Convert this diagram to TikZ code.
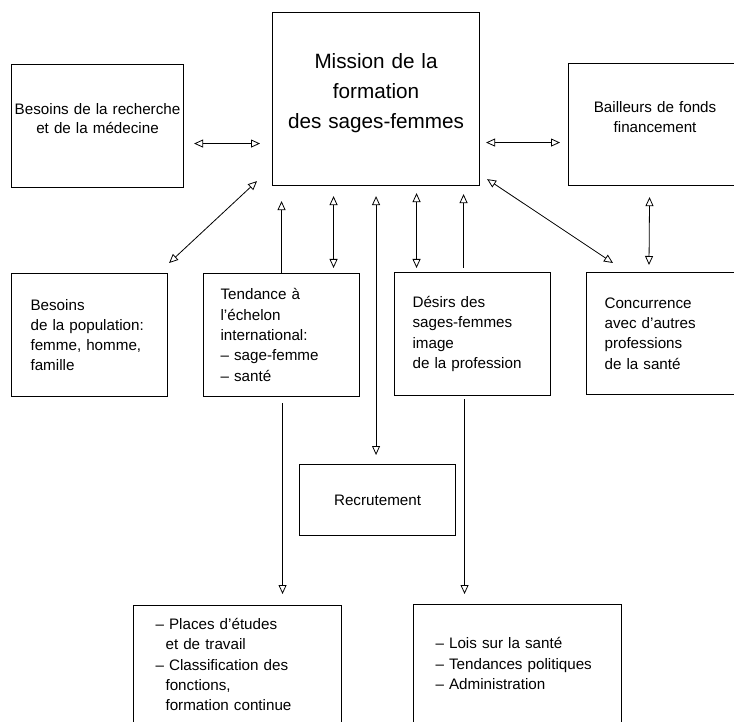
\documentclass[tikz,border=0pt]{standalone}
\usepackage{fontspec}
\setmainfont{Liberation Sans}
\usetikzlibrary{arrows.meta, calc, positioning}

\begin{document}
\begin{tikzpicture}[x=1pt, y=-1pt,
  box/.style={draw, line width=1.1pt, rectangle, inner sep=0pt, anchor=north west,
    font=\fontsize{15.2}{20.3}\selectfont},
  cbox/.style={box, align=center},
  lbox/.style={box, align=left, inner xsep=18pt},
  link/.style={line width=0.8pt},
  oneway/.style={link, -{Triangle[open, length=9pt, width=8pt]}},
  twoway/.style={link, {Triangle[open, length=9pt, width=8pt]}-{Triangle[open, length=9pt, width=8pt]}},
]
\path[use as bounding box] (0,0) rectangle (734,722);
\clip (0,0) rectangle (734,722);

% nodes
\node[cbox, text width=207pt, minimum height=173pt, text height=15pt, text depth=77pt,
  font=\fontsize{20.7}{30}\selectfont] (mission) at (272,12) {Mission de la\\formation\\des sages-femmes};
\node[cbox, text width=172pt, minimum height=123pt, text height=11pt, text depth=34pt,
  font=\fontsize{15.2}{18.5}\selectfont] (rech) at (11,64) {Besoins de la recherche\\et de la médecine};
\node[cbox, text width=173pt, minimum height=122pt, text height=11pt, text depth=35pt] (bail) at (568,63) {Bailleurs de fonds\\financement};

\node[lbox, inner xsep=19pt, text width=118pt, minimum height=123pt] (pop) at (11,273) {Besoins\\de la population:\\femme, homme,\\famille};
\node[lbox, inner xsep=17pt, text width=122pt, minimum height=123pt] (tend) at (203,273) {Tendance à\\l’échelon\\international:\\– sage-femme\\– santé};
\node[lbox, text width=120pt, minimum height=123pt] (des) at (394,272) {Désirs des\\sages-femmes\\image\\de la profession};
\node[lbox, text width=130pt, minimum height=122pt] (conc) at (586,272) {Concurrence\\avec d’autres\\professions\\de la santé};

\node[cbox, minimum width=156pt, minimum height=71pt] (recr) at (299,464) {Recrutement};

\node[lbox, inner xsep=22pt, text width=164pt, minimum height=118pt] (places) at (133,605) {– Places d’études\\\hspace*{10pt}et de travail\\– Classification des\\\hspace*{10pt}fonctions,\\\hspace*{10pt}formation continue};
\node[lbox, inner xsep=22pt, text width=164pt, minimum height=118pt] (lois) at (413,604) {– Lois sur la santé\\– Tendances politiques\\– Administration};

% arrows
\draw [twoway] ($(rech.east)+(10,17.5)$) -- ($(mission.west)+(-12,44.5)$);
\draw [twoway] ($(mission.east)+(6,43.5)$) -- ($(bail.west)+(-8,18)$);
\draw [twoway] ($(pop.north east)+(1,-10)$) -- ($(mission.south west)+(-15,-5)$);
\draw [twoway] ($(mission.south east)+(7,-7)$) -- ($(conc.north west)+(27,-9)$);
\draw [twoway] ($(bail.south)+(-5.5,11)$) -- ($(conc.north west)+(63,-7)$);

\draw [oneway, shorten >=15pt] (tend.north) -- (tend.north |- mission.south);
\draw [twoway] ($(mission.south)+(-42.5,10)$) -- ($(tend.north)+(52,-5)$);
\draw [twoway, shorten <=10pt, shorten >=9pt] (mission.south) -- (mission.south |- recr.north);
\draw [twoway] ($(mission.south)+(40.5,7)$) -- ($(des.north)+(-56,-4)$);
\draw [oneway] ($(des.north)+(-9,-4)$) -- ($(mission.south)+(87.5,8)$);

\draw [oneway] ($(tend.south)+(1,6)$) -- ($(places.north)+(45,-11)$);
\draw [oneway] ($(des.south)+(-8,3)$) -- ($(lois.north)+(-53,-10)$);

\end{tikzpicture}
\end{document}
